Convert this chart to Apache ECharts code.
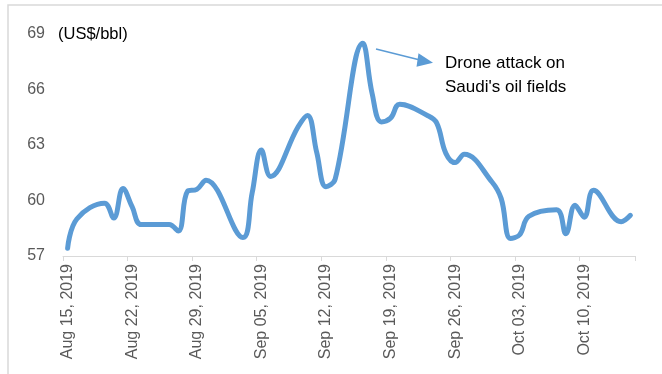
<!DOCTYPE html>
<html><head><meta charset="utf-8">
<script src="https://cdn.jsdelivr.net/npm/echarts@6/dist/echarts.min.js"></script>
<style>html,body{margin:0;padding:0;background:#fff}#c{width:662px;height:374px}</style>
</head><body><div id="c"></div>
<script>
// Calendar span of the date axis
const startDate = '2019-08-15';
const dayCount = 62;

// Trading days and prices (US$/bbl)
const tradeDates = [
  '2019-08-15','2019-08-16','2019-08-19','2019-08-20','2019-08-21','2019-08-22','2019-08-23',
  '2019-08-26','2019-08-27','2019-08-28','2019-08-29','2019-08-30',
  '2019-09-03','2019-09-04','2019-09-05','2019-09-06',
  '2019-09-09','2019-09-10','2019-09-11','2019-09-12','2019-09-13',
  '2019-09-16','2019-09-17','2019-09-18','2019-09-19','2019-09-20',
  '2019-09-23','2019-09-24','2019-09-25','2019-09-26','2019-09-27',
  '2019-09-30','2019-10-01','2019-10-02','2019-10-03','2019-10-04',
  '2019-10-07','2019-10-08','2019-10-09','2019-10-10','2019-10-11',
  '2019-10-14','2019-10-15'
];
const prices = [
  57.42, 59.0, 59.85, 59.05, 60.65, 59.65, 58.7,
  58.7, 58.35, 60.5, 60.6, 61.1,
  58.0, 60.4, 62.73, 61.3,
  64.0, 64.6, 62.6, 60.75, 61.15,
  68.5, 65.8, 64.25, 64.45, 65.2,
  64.6, 64.2, 62.55, 62.05, 62.5,
  61.0, 60.1, 57.95, 58.15, 59.15,
  59.5, 58.2, 59.75, 59.1, 60.55,
  58.85, 59.2
];

const tickLabels = ['Aug 15, 2019','Aug 22, 2019','Aug 29, 2019','Sep 05, 2019','Sep 12, 2019',
  'Sep 19, 2019','Sep 26, 2019','Oct 03, 2019','Oct 10, 2019'];
const yTicks = [57, 60, 63, 66, 69];

// build calendar categories
const categories = [];
const d0 = new Date(startDate + 'T00:00:00Z');
for (let i = 0; i < dayCount; i++) {
  const d = new Date(d0.getTime() + i * 86400000);
  categories.push(d.toISOString().slice(0, 10));
}
const priceMap = {};
tradeDates.forEach((d, i) => { priceMap[d] = prices[i]; });
const seriesData = categories.map(c => (c in priceMap ? priceMap[c] : null));

const FONT = 'Liberation Sans';
const chart = echarts.init(document.getElementById('c'), null, { renderer: 'canvas' });
chart.setOption({
  animation: false,
  backgroundColor: '#fff',
  grid: { left: 63, right: 27, top: 34, bottom: 118, containLabel: false },
  xAxis: {
    type: 'category',
    data: categories,
    boundaryGap: true,
    axisLine: { show: true, lineStyle: { color: '#d9d9d9', width: 1 } },
    axisTick: { show: true, length: 5, interval: (i) => i % 7 === 0, lineStyle: { color: '#d9d9d9' } },
    axisLabel: {
      interval: (i) => i % 7 === 0,
      rotate: 90,
      margin: 8,
      color: '#595959',
      fontFamily: FONT,
      fontSize: 16,
      formatter: (v, i) => (i % 7 === 0 ? tickLabels[i / 7] : '')
    },
    splitLine: { show: false }
  },
  yAxis: {
    type: 'value',
    min: yTicks[0],
    max: yTicks[yTicks.length - 1],
    interval: 3,
    axisLine: { show: false },
    axisTick: { show: false },
    splitLine: { show: false },
    axisLabel: { color: '#595959', fontFamily: FONT, fontSize: 16, margin: 18 }
  },
  series: [{
    type: 'line',
    data: seriesData,
    connectNulls: true,
    smooth: 0.4,
    showSymbol: false,
    lineStyle: { color: '#5B9BD5', width: 5, cap: 'round', join: 'round' }
  }],
  graphic: [
    { type: 'polyline', shape: { points: [[8, 374], [8, 5], [662, 5]] },
      style: { stroke: '#d9d9d9', lineWidth: 1.5, fill: null }, silent: true },
    { type: 'text', left: 58, top: 26,
      style: { text: '(US$/bbl)', fill: '#000', font: '16.5px "Liberation Sans"' } },
    { type: 'text', left: 445, top: 51,
      style: { text: "Drone attack on\nSaudi's oil fields", fill: '#000', font: '17px "Liberation Sans"', lineHeight: 24 } },
    { type: 'line', shape: { x1: 376, y1: 49, x2: 420, y2: 60 },
      style: { stroke: '#5B9BD5', lineWidth: 1.5 } },
    { type: 'polygon', shape: { points: [[433, 62.7], [418.5, 53.3], [416.5, 66.7]] },
      style: { fill: '#5B9BD5' } }
  ]
});
</script>
</body></html>
